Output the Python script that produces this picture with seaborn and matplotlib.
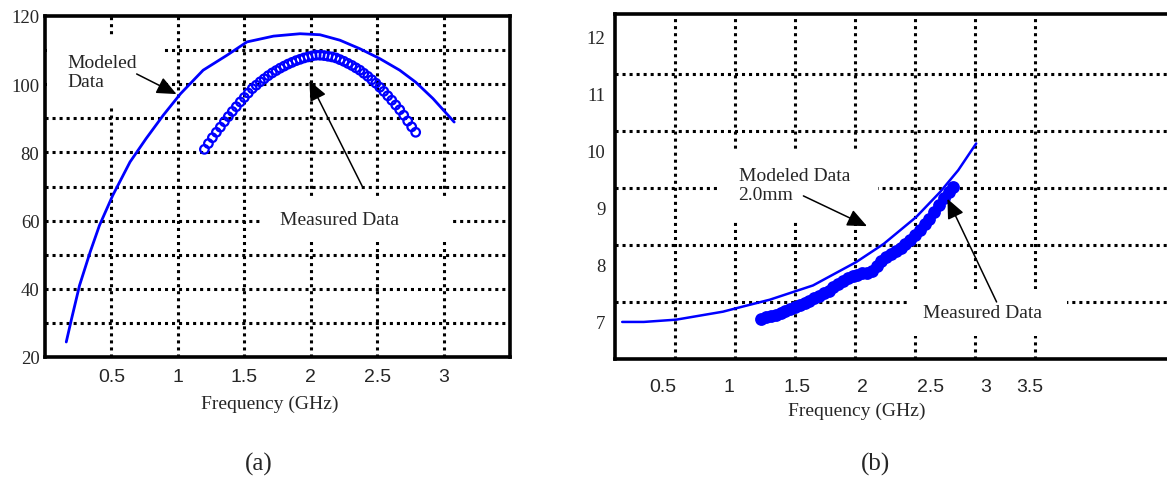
import matplotlib
matplotlib.use("Agg")
import matplotlib.pyplot as plt
from matplotlib.patches import Rectangle
import seaborn as sns
import numpy as np
import pandas as pd

# --- data ---

# (a) modeled curve
freq_mod_a = [0.16, 0.20, 0.26, 0.34, 0.41, 0.51, 0.64, 0.76, 0.89, 1.02, 1.19, 1.37,
              1.52, 1.72, 1.92, 2.07, 2.22, 2.37, 2.52, 2.67, 2.79, 2.92, 3.08]
val_mod_a = [24.4, 31.2, 41.0, 50.8, 58.6, 67.4, 77.2, 84.0, 90.9, 97.2, 104.1, 108.5,
             112.4, 114.1, 114.8, 114.5, 112.9, 110.4, 107.5, 104.1, 100.6, 95.8, 88.9]

# (a) measured points
freq_meas_a = [1.20, 1.23, 1.26, 1.29, 1.32, 1.35, 1.38, 1.41, 1.44, 1.47, 1.50, 1.53,
               1.56, 1.59, 1.62, 1.65, 1.68, 1.71, 1.74, 1.77, 1.80, 1.83, 1.86, 1.89,
               1.92, 1.95, 1.98, 2.01, 2.04, 2.07, 2.10, 2.13, 2.16, 2.19, 2.22, 2.25,
               2.28, 2.31, 2.34, 2.37, 2.40, 2.43, 2.46, 2.49, 2.52, 2.55, 2.58, 2.61,
               2.64, 2.67, 2.70, 2.73, 2.76, 2.79]
val_meas_a = [80.9, 82.6, 84.3, 85.9, 87.4, 89.0, 90.5, 92.0, 93.4, 94.8, 96.1, 97.4,
              98.7, 99.7, 100.7, 101.6, 102.5, 103.3, 104.0, 104.7, 105.3, 105.9, 106.4, 106.9,
              107.3, 107.7, 108.0, 108.3, 108.5, 108.5, 108.4, 108.2, 108.0, 107.7, 107.2, 106.7,
              106.1, 105.5, 104.8, 104.1, 103.2, 102.3, 101.3, 100.3, 99.1, 97.9, 96.6, 95.3,
              93.9, 92.5, 90.9, 89.2, 87.5, 85.9]

# (b) modeled curve
freq_mod_b = [0.06, 0.24, 0.51, 0.90, 1.01, 1.29, 1.65, 2.01, 2.24, 2.51, 2.71, 2.86, 3.01]
val_mod_b = [7.00, 7.00, 7.04, 7.18, 7.24, 7.39, 7.64, 8.05, 8.37, 8.84, 9.28, 9.66, 10.13]

# (b) measured points
freq_meas_b = [1.22, 1.26, 1.30, 1.34, 1.38, 1.42, 1.46, 1.50, 1.54, 1.58, 1.62, 1.66,
               1.70, 1.74, 1.78, 1.82, 1.86, 1.90, 1.94, 1.98, 2.02, 2.06, 2.10, 2.14,
               2.18, 2.22, 2.26, 2.30, 2.34, 2.38, 2.42, 2.46, 2.50, 2.54, 2.58, 2.62,
               2.66, 2.70, 2.74, 2.78, 2.82]
val_meas_b = [7.05, 7.08, 7.10, 7.13, 7.16, 7.19, 7.23, 7.26, 7.29, 7.33, 7.37, 7.42,
              7.46, 7.50, 7.55, 7.61, 7.66, 7.72, 7.77, 7.81, 7.83, 7.85, 7.86, 7.90,
              7.98, 8.06, 8.13, 8.19, 8.24, 8.29, 8.36, 8.44, 8.52, 8.62, 8.71, 8.81,
              8.92, 9.05, 9.17, 9.27, 9.37]

# tick labels
xticks_a = [0.5, 1.0, 1.5, 2.0, 2.5, 3.0]
xticklabels_a = ["0.5", "1", "1.5", "2", "2.5", "3"]
yticks_a = [20, 40, 60, 80, 100, 120]
xticks_b = [0.40, 0.95, 1.52, 2.06, 2.63, 3.09, 3.46]
xticklabels_b = ["0.5", "1", "1.5", "2", "2.5", "3", "3.5"]
yticks_b = [7, 8, 9, 10, 11, 12]

# dotted grid positions (scan grid is offset from the labels in (b))
xgrid_a = [0.5, 1.0, 1.5, 2.0, 2.5, 3.0]
ygrid_a = [30, 40, 50, 60, 70, 80, 90, 100, 110]
xgrid_b = [0.5, 1.0, 1.5, 2.0, 2.5, 3.0, 3.5]
ygrid_b = [7.35, 8.35, 9.35, 10.35, 11.35]

BLUE = "#0000ff"
SERIF = ["Liberation Serif", "DejaVu Serif"]
SANS = ["Liberation Sans", "DejaVu Sans"]

sns.set_style("white")
plt.rcParams["font.family"] = SERIF

fig = plt.figure(figsize=(11.67, 4.81), dpi=100)
ax_a = fig.add_axes([45 / 1167, 1 - 358 / 481, 465 / 1167, 341 / 481])
ax_b = fig.add_axes([615 / 1167, 1 - 360 / 481, 552 / 1167, 345 / 481])

grid_kw = dict(color="black", linestyle=(0, (1.0, 1.3)), linewidth=2.2, zorder=1)
arrow_kw = dict(arrowstyle="-|>,head_length=0.5,head_width=0.22", color="black",
                lw=1.1, mutation_scale=24, shrinkA=0, shrinkB=0)
text_kw = dict(fontsize=14, linespacing=1.2, zorder=6)


def style_axes(ax, xgrid, ygrid):
    ax.grid(False)
    for x in xgrid:
        ax.axvline(x, **grid_kw)
    for y in ygrid:
        ax.axhline(y, **grid_kw)
    for side in ["top", "left", "bottom", "right"]:
        ax.spines[side].set_linewidth(2.6)
        ax.spines[side].set_color("black")
        ax.spines[side].set_zorder(7)
    ax.tick_params(which="both", length=0)
    ax.set_xlabel("")
    ax.set_ylabel("")
    for lab in ax.get_xticklabels():
        lab.set_family(SANS)
        lab.set_fontsize(14)
    for lab in ax.get_yticklabels():
        lab.set_family(SERIF)
        lab.set_fontsize(13.5)


def mask(ax, x0, x1, y0, y1):
    # white box behind annotation text, hides the grid as in the scan
    ax.add_patch(Rectangle((x0, y0), x1 - x0, y1 - y0, fc="white", ec="none", zorder=2))


# ---- panel (a) ----
df_mod_a = pd.DataFrame({"f": freq_mod_a, "v": val_mod_a})
df_meas_a = pd.DataFrame({"f": freq_meas_a, "v": val_meas_a})
sns.lineplot(data=df_mod_a, x="f", y="v", ax=ax_a, color=BLUE, lw=2.0, zorder=4)
sns.scatterplot(data=df_meas_a, x="f", y="v", ax=ax_a, marker="o", s=38,
                facecolor="none", edgecolor=BLUE, linewidth=1.6, zorder=4)
ax_a.set_xlim(0, 3.5)
ax_a.set_ylim(20, 120)
ax_a.set_xticks(xticks_a)
ax_a.set_xticklabels(xticklabels_a)
ax_a.set_yticks(yticks_a)
ax_a.tick_params(axis="x", pad=8)
ax_a.tick_params(axis="y", pad=4)
style_axes(ax_a, xgrid_a, ygrid_a)

mask(ax_a, 0.015, 0.89, 93.3, 114.1)
mask(ax_a, 1.62, 3.05, 53.7, 67.2)
ax_a.text(0.17, 103.6, "Modeled\nData", ha="left", va="center", **text_kw)
ax_a.annotate("", xy=(0.99, 97.1), xytext=(0.69, 103.0), arrowprops=arrow_kw, zorder=6)
ax_a.annotate("", xy=(1.99, 101.0), xytext=(2.39, 69.9), arrowprops=arrow_kw, zorder=6)
ax_a.text(2.22, 60.2, "Measured Data", ha="center", va="center", **text_kw)
ax_a.text(0.484, -0.135, "Frequency (GHz)", transform=ax_a.transAxes,
          ha="center", va="center", fontsize=14)

# ---- panel (b) ----
df_mod_b = pd.DataFrame({"f": freq_mod_b, "v": val_mod_b})
df_meas_b = pd.DataFrame({"f": freq_meas_b, "v": val_meas_b})
sns.lineplot(data=df_mod_b, x="f", y="v", ax=ax_b, color=BLUE, lw=1.8, zorder=4)
sns.scatterplot(data=df_meas_b, x="f", y="v", ax=ax_b, marker="o", s=85,
                color=BLUE, edgecolor=BLUE, linewidth=0, zorder=4)
ax_b.set_xlim(0, 4.6)
ax_b.set_ylim(6.35, 12.4)
ax_b.set_xticks(xticks_b)
ax_b.set_xticklabels(xticklabels_b)
ax_b.set_yticks(yticks_b)
ax_b.tick_params(axis="x", pad=14)
ax_b.tick_params(axis="y", pad=7)
style_axes(ax_b, xgrid_b, ygrid_b)
ax_b.spines["right"].set_visible(False)

mask(ax_b, 0.86, 2.19, 8.75, 10.0)
mask(ax_b, 2.44, 3.77, 6.75, 7.58)
ax_b.text(1.03, 9.40, "Modeled Data\n2.0mm", ha="left", va="center", **text_kw)
ax_b.annotate("", xy=(2.10, 8.68), xytext=(1.57, 9.21), arrowprops=arrow_kw, zorder=6)
ax_b.annotate("", xy=(2.77, 9.16), xytext=(3.18, 7.35), arrowprops=arrow_kw, zorder=6)
ax_b.text(3.06, 7.16, "Measured Data", ha="center", va="center", **text_kw)
ax_b.text(0.438, -0.15, "Frequency (GHz)", transform=ax_b.transAxes,
          ha="center", va="center", fontsize=14)

fig.text(259 / 1167, 1 - 464 / 481, "(a)", ha="center", va="center", fontsize=18)
fig.text(875 / 1167, 1 - 464 / 481, "(b)", ha="center", va="center", fontsize=18)

fig.savefig("out.png", dpi=100)
